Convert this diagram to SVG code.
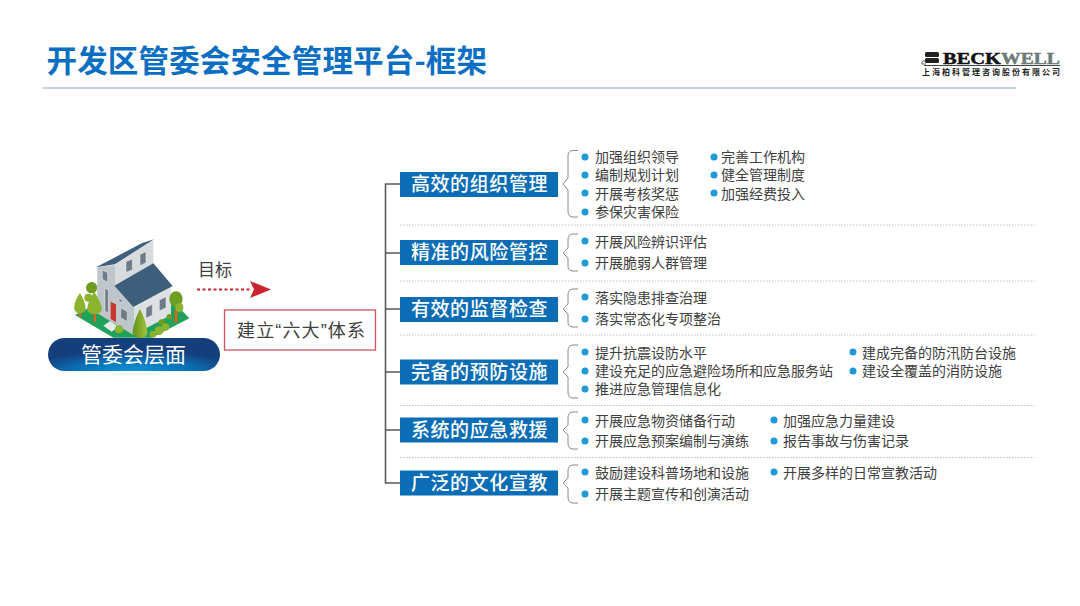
<svg xmlns="http://www.w3.org/2000/svg" width="1080" height="606" viewBox="0 0 1080 606">
<style>
text{font-family:"Noto Sans CJK SC","Liberation Sans",sans-serif}
.h{fill:#0a6db5}
.ht{font-size:19px;fill:#fff;text-anchor:middle;letter-spacing:.6px;font-weight:500}
.t{font-size:14px;fill:#404040}
.d{fill:#1f9ad6}
.conn{fill:none;stroke:#595959;stroke-width:1.6}
.b{fill:none;stroke:#8a8a8a;stroke-width:1}
.sep{stroke:#bdbdbd;stroke-width:1;stroke-dasharray:1.5 1.5}
.win{fill:#6f7c87;stroke:#eef0f1;stroke-width:1.500}
.tr{fill:#d8661e}
.g1{fill:#6f9c22}
.g2{fill:#8cb32e}
</style>
<defs>
<radialGradient id="pill" cx=".5" cy="1" r=".62" gradientTransform="translate(0 0)"><stop offset="0" stop-color="#0a96d8"/><stop offset=".55" stop-color="#0b6fb4"/><stop offset="1" stop-color="#143f7d"/></radialGradient>
<linearGradient id="cone" x1="0" x2="1" y1="0" y2="0"><stop offset="0" stop-color="#5f9120"/><stop offset="1" stop-color="#a4c23a"/></linearGradient>
</defs>
<rect width="1080" height="606" fill="#fff"/>
<text id="title" x="46.500" y="72" font-size="30.500" font-weight="700" fill="#0a6fc2" textLength="440.500" lengthAdjust="spacing">开发区管委会安全管理平台-框架</text>
<line x1="43" y1="88" x2="1016" y2="88" stroke="#93a6cf" stroke-width="1.200"/>
<g id="logo">
<rect x="925" y="52" width="14" height="5" rx="1.500" fill="#222"/><rect x="925" y="58" width="14" height="5" rx="1.500" fill="#222"/>
<path d="M926,64H922Q921,62 923,61H925" fill="none" stroke="#333" stroke-width=".8"/>
<text x="943" y="63.500" font-size="17" font-weight="700" style="font-family:'Liberation Serif',serif" fill="#111" textLength="58" lengthAdjust="spacingAndGlyphs" stroke="#111" stroke-width=".5">BECK</text>
<text x="1001" y="63.500" font-size="17" font-weight="700" style="font-family:'Liberation Serif',serif" fill="#6d7b78" textLength="59" lengthAdjust="spacingAndGlyphs" stroke="#6d7b78" stroke-width=".5">WELL</text>
<line x1="924" y1="65.500" x2="1060" y2="65.500" stroke="#444" stroke-width="1"/>
<text x="922" y="75" font-size="8" font-weight="700" fill="#222" textLength="138">上海柏科管理咨询股份有限公司</text>
</g>
<g id="house" transform="translate(70 235) scale(.3333)">
<polygon points="15,240 130,180 300,190 358,250 245,308 130,308" fill="#1fa15a"/>
<circle cx="65" cy="158" r="17" class="g1"/><circle cx="55" cy="188" r="12" class="g2"/>
<polygon points="82,97 135,90 135,150 190,215 190,300 82,235" fill="#bfc6cb"/>
<polygon points="135,90 250,15 250,85 135,155" fill="#d9dcde"/>
<polygon points="190,215 303,155 303,240 190,300" fill="#dee1e3"/>
<polygon points="78,97 215,25 252,13 135,88" fill="#3f5f7d"/>
<polygon points="133,152 250,85 308,153 190,215" fill="#3e5f7c"/>
<polygon points="122,200 138,208 138,262 122,252" fill="#c8372d"/>
<g class="win">
<polygon points="168,80 187,72 187,105 168,112"/><polygon points="210,58 228,50 228,83 210,92"/>
<polygon points="97,105 113,113 113,142 97,133"/><polygon points="105,160 115,165 115,235 105,228"/>
<polygon points="152,218 172,230 172,260 152,248"/><polygon points="228,218 247,208 247,240 228,250"/>
<polygon points="268,195 288,185 288,218 268,228"/><polygon points="147,190 157,195 157,203 147,198"/>
</g>
<polygon points="100,272 120,258 146,275 125,290" fill="#e6e9e9"/>
<rect x="27" y="228" width="7" height="18" class="tr"/><rect x="71" y="230" width="7" height="30" class="tr"/><rect x="314" y="225" width="8" height="38" class="tr"/>
<path d="M30,174C18,190 11,210 13,224Q18,235 30,235Q45,233 47,222C47,208 40,190 30,174Z" class="g2"/>
<path d="M73,170C60,190 50,212 52,226Q58,238 73,238Q92,236 96,224C95,208 84,188 73,170Z" class="g2"/>
<ellipse cx="318" cy="192" rx="20" ry="23" class="g1"/><ellipse cx="328" cy="218" rx="12" ry="14" class="g2"/>
<circle cx="147" cy="283" r="12" class="g2"/>
<circle cx="298" cy="245" r="8" class="g1"/><circle cx="275" cy="262" r="9" class="g1"/><circle cx="287" cy="276" r="11" class="g2"/><circle cx="267" cy="287" r="13" class="g2"/><circle cx="249" cy="298" r="10" class="g2"/>
<path d="M210,222C198,245 188,275 188,295Q195,310 210,310Q228,308 232,295C232,275 222,245 210,222Z" fill="url(#cone)"/>
</g>
<g id="pill-node">
<rect x="48" y="338" width="172" height="33" rx="16.500" fill="url(#pill)"/>
<text x="133.500" y="361.500" font-size="21" fill="#fff" text-anchor="middle">管委会层面</text>
</g>
<g id="goal-label"><text x="198" y="276" font-size="17" fill="#404040">目标</text></g>
<g id="system-node">
<rect x="224.500" y="310" width="151" height="40" fill="#fff" stroke="#c8555b" stroke-width="1.300"/>
<text x="237" y="336.500" font-size="18" fill="#404040" textLength="128">建立<tspan style="font-family:'Liberation Sans',sans-serif">“</tspan>六大<tspan style="font-family:'Liberation Sans',sans-serif">”</tspan>体系</text>
</g>
<g id="connectors">
<line x1="197" y1="289.500" x2="252" y2="289.500" stroke="#c9252f" stroke-width="2" stroke-dasharray="3 2.500"/>
<polygon points="250,281 271,289.500 250,298 254,289.500" fill="#c9252f"/>
<path class="conn" d="M400,184H385.500V483H400M385.500,253H400M385.500,309H400M385.500,372H400M385.500,430H400"/>
<g class="b">
<path d="M578,150.500H573Q568,150.500 568,156V178L563,184L568,190V211Q568,217 573,217H578"/>
<path d="M578,234H573Q568,234 568,240V248L563,253L568,258V266Q568,271 573,271H578"/>
<path d="M578,289H573Q568,289 568,295V304L563,309L568,314V322Q568,327 573,327H578"/>
<path d="M578,345H573Q568,345 568,351V367L563,372L568,377V392Q568,398 573,398H578"/>
<path d="M578,412H573Q568,412 568,418V425L563,430L568,435V443Q568,449 573,449H578"/>
<path d="M578,465H573Q568,465 568,471V478L563,483L568,488V497Q568,503 573,503H578"/>
</g>
<g class="sep">
<line x1="400" y1="225" x2="1034" y2="225"/><line x1="400" y1="281" x2="1034" y2="281"/><line x1="400" y1="335" x2="1034" y2="335"/><line x1="400" y1="405.500" x2="1034" y2="405.500"/><line x1="400" y1="457.500" x2="1034" y2="457.500"/>
</g>
</g>
<g id="n1"><rect class="h" x="400" y="172" width="158" height="25"/><text class="ht" x="479.500" y="191">高效的组织管理</text>
<circle class="d" cx="585" cy="157" r="3.500"/><text class="t" x="595" y="162">加强组织领导</text>
<circle class="d" cx="585" cy="175" r="3.500"/><text class="t" x="595" y="180">编制规划计划</text>
<circle class="d" cx="585" cy="193" r="3.500"/><text class="t" x="595" y="198.500">开展考核奖惩</text>
<circle class="d" cx="585" cy="212" r="3.500"/><text class="t" x="595" y="217">参保灾害保险</text>
<circle class="d" cx="714" cy="157" r="3.500"/><text class="t" x="721" y="162">完善工作机构</text>
<circle class="d" cx="714" cy="175" r="3.500"/><text class="t" x="721" y="180">健全管理制度</text>
<circle class="d" cx="714" cy="193" r="3.500"/><text class="t" x="721" y="198.500">加强经费投入</text></g>
<g id="n2"><rect class="h" x="400" y="240" width="158" height="25"/><text class="ht" x="479.500" y="259">精准的风险管控</text>
<circle class="d" cx="585" cy="241" r="3.500"/><text class="t" x="595" y="247">开展风险辨识评估</text>
<circle class="d" cx="585" cy="263" r="3.500"/><text class="t" x="595" y="268">开展脆弱人群管理</text></g>
<g id="n3"><rect class="h" x="400" y="297" width="158" height="25"/><text class="ht" x="479.500" y="316">有效的监督检查</text>
<circle class="d" cx="585" cy="297" r="3.500"/><text class="t" x="595" y="303">落实隐患排查治理</text>
<circle class="d" cx="585" cy="319" r="3.500"/><text class="t" x="595" y="324">落实常态化专项整治</text></g>
<g id="n4"><rect class="h" x="400" y="359.500" width="158" height="25"/><text class="ht" x="479.500" y="378.500">完备的预防设施</text>
<circle class="d" cx="585" cy="352" r="3.500"/><text class="t" x="595" y="358">提升抗震设防水平</text>
<circle class="d" cx="585" cy="371" r="3.500"/><text class="t" x="595" y="376">建设充足的应急避险场所和应急服务站</text>
<circle class="d" cx="585" cy="389" r="3.500"/><text class="t" x="595" y="394">推进应急管理信息化</text>
<circle class="d" cx="853" cy="352" r="3.500"/><text class="t" x="862" y="358">建成完备的防汛防台设施</text>
<circle class="d" cx="853" cy="371" r="3.500"/><text class="t" x="862" y="376">建设全覆盖的消防设施</text></g>
<g id="n5"><rect class="h" x="400" y="417.500" width="158" height="25"/><text class="ht" x="479.500" y="436.500">系统的应急救援</text>
<circle class="d" cx="585" cy="420" r="3.500"/><text class="t" x="595" y="425.500">开展应急物资储备行动</text>
<circle class="d" cx="585" cy="441" r="3.500"/><text class="t" x="595" y="446">开展应急预案编制与演练</text>
<circle class="d" cx="774" cy="420" r="3.500"/><text class="t" x="783" y="425.500">加强应急力量建设</text>
<circle class="d" cx="774" cy="441" r="3.500"/><text class="t" x="783" y="446">报告事故与伤害记录</text></g>
<g id="n6"><rect class="h" x="400" y="470.500" width="158" height="25"/><text class="ht" x="479.500" y="489.500">广泛的文化宣教</text>
<circle class="d" cx="585" cy="472" r="3.500"/><text class="t" x="595" y="478">鼓励建设科普场地和设施</text>
<circle class="d" cx="585" cy="494" r="3.500"/><text class="t" x="595" y="499">开展主题宣传和创演活动</text>
<circle class="d" cx="774" cy="472" r="3.500"/><text class="t" x="783" y="478">开展多样的日常宣教活动</text></g>
</svg>
